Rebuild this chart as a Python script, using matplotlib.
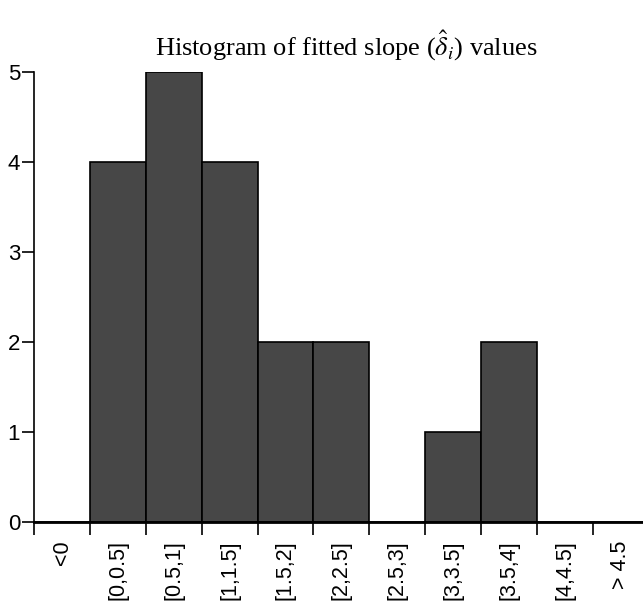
import numpy as np
import matplotlib.pyplot as plt

# Bin labels and counts of fitted slope values
bins = ["<0", "[0,0.5]", "[0.5,1]", "[1,1.5]", "[1.5,2]", "[2,2.5]",
        "[2.5,3]", "[3,3.5]", "[3.5,4]", "[4,4.5]", "> 4.5"]
counts = [0, 4, 5, 4, 2, 2, 0, 1, 2, 0, 0]
yticks = [0, 1, 2, 3, 4, 5]

plt.rcParams['font.family'] = ['Liberation Sans', 'DejaVu Sans']

fig = plt.figure(figsize=(6.43, 6.03), dpi=100)
ax = fig.add_axes([0.053, 0.134, 0.947, 0.747])

x = np.arange(len(bins))
ax.bar(x, counts, width=1.0, align='edge', color='#474747',
       edgecolor='black', linewidth=1.2, zorder=2)

ax.set_xlim(0, 10.9)
ax.set_ylim(0, 5)
ax.set_xticks(np.arange(0, 11))
ax.set_xticklabels([])
ax.set_xticks(x + 0.5, minor=True)
ax.set_xticklabels(bins, minor=True, rotation=90, fontsize=15.5, va='top')
ax.tick_params(axis='x', which='minor', length=0, pad=13)
ax.tick_params(axis='x', which='major', length=9, width=1.2, direction='out')
ax.set_yticks(yticks)
ax.tick_params(axis='y', length=9, width=1.2, labelsize=16, pad=1)

ax.spines['top'].set_visible(False)
ax.spines['right'].set_visible(False)
ax.spines['left'].set_linewidth(1.2)
ax.spines['bottom'].set_linewidth(2)
ax.spines['bottom'].set_zorder(3)

fig.text(0.538, 0.925, r'Histogram of fitted slope ($\hat{\delta}_i$) values',
         ha='center', va='center', fontsize=19, family='Liberation Serif',
         math_fontfamily='stix')

fig.savefig('out.png', dpi=100)
